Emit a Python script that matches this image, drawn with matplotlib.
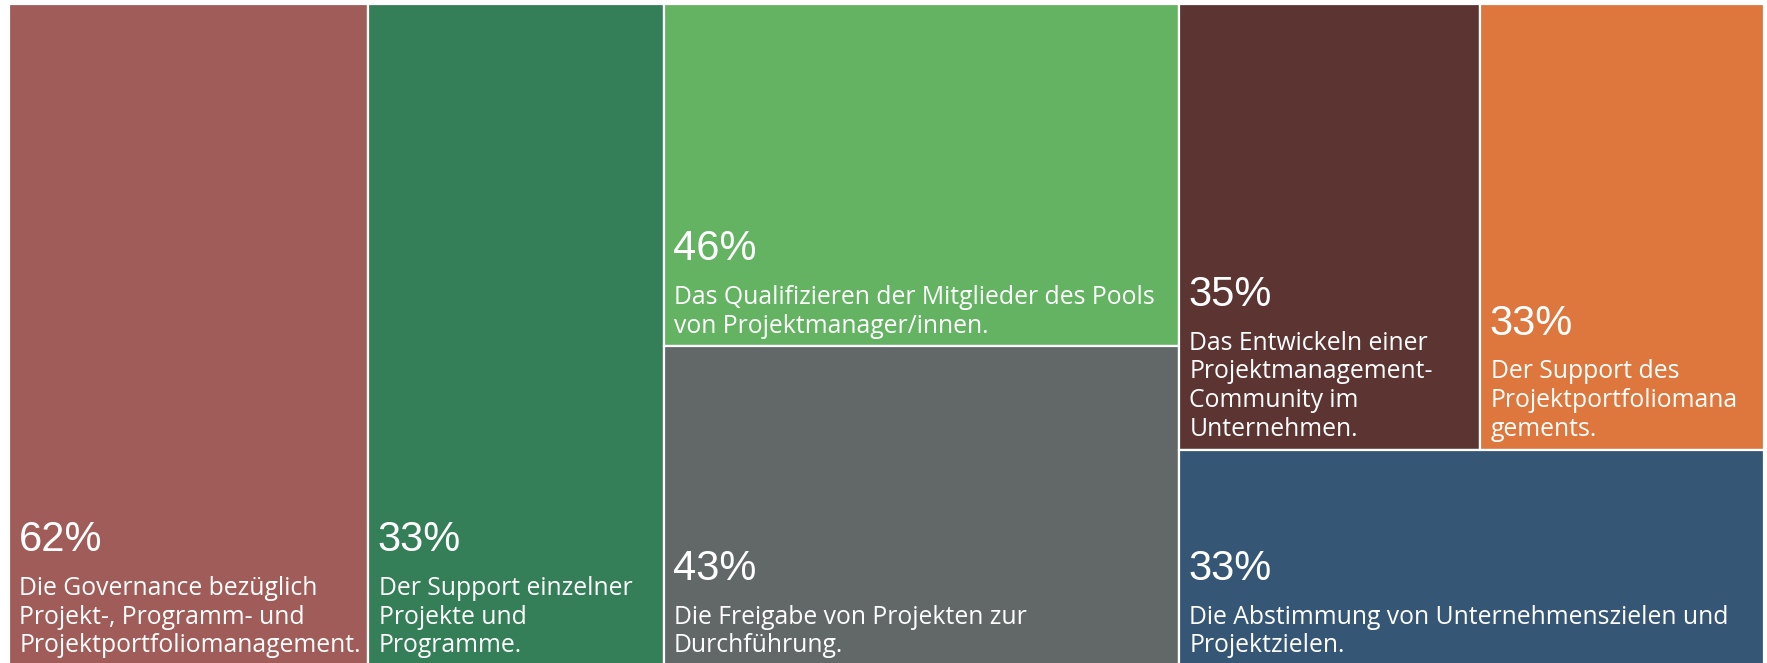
import matplotlib.pyplot as plt
from matplotlib.patches import Rectangle

# Daten (Fläche je Kachel, angezeigte Prozentwerte, Texte, Farben)
groessen = [62, 51, 46, 43, 35, 33, 33]
prozente = ["62%", "33%", "46%", "43%", "35%", "33%", "33%"]
texte = [
    "Die Governance bezüglich\nProjekt-, Programm- und\nProjektportfoliomanagement.",
    "Der Support einzelner\nProjekte und\nProgramme.",
    "Das Qualifizieren der Mitglieder des Pools\nvon Projektmanager/innen.",
    "Die Freigabe von Projekten zur\nDurchführung.",
    "Das Entwickeln einer\nProjektmanagement-\nCommunity im\nUnternehmen.",
    "Der Support des\nProjektportfoliomana\ngements.",
    "Die Abstimmung von Unternehmenszielen und\nProjektzielen.",
]
farben = ["#A05C59", "#347E58", "#63B362", "#626868", "#5C3533", "#DD773D", "#365675"]


def worst(reihe, laenge, ratio):
    s = sum(reihe)
    f = laenge * laenge * ratio
    return max(f * max(reihe) / s ** 2, s ** 2 / (f * min(reihe)))


# Squarified Treemap (Werte absteigend sortiert)
def squarify(werte, x, y, w, h, ratio=0.85):
    gesamt = sum(werte)
    flaechen = [v * w * h / gesamt for v in werte]
    rects = []
    i = 0
    while i < len(flaechen):
        kurz = min(w, h)
        reihe = [flaechen[i]]
        best = worst(reihe, kurz, ratio)
        j = i + 1
        while j < len(flaechen):
            neu = reihe + [flaechen[j]]
            score = worst(neu, kurz, ratio)
            if score > best:
                break
            reihe, best = neu, score
            j += 1
        dicke = sum(reihe) / kurz
        if w >= h:
            yy = y
            for a in reihe:
                rects.append((x, yy, dicke, a / dicke))
                yy += a / dicke
            x += dicke
            w -= dicke
        else:
            xx = x
            for a in reihe:
                rects.append((xx, y, a / dicke, dicke))
                xx += a / dicke
            y += dicke
            h -= dicke
        i = j
    return rects


fig = plt.figure(figsize=(17.67, 6.63), dpi=100)
# Treemap ragt unten minimal über den Bildrand hinaus
ax = fig.add_axes([9 / 1767, -3 / 663, 1755 / 1767, 662 / 663])
W, H = 1755, 662
ax.set_xlim(0, W)
ax.set_ylim(H, 0)
ax.axis("off")

rechtecke = squarify(groessen, 0, 0, W, H)

for (x, y, w, h), farbe, pct, txt in zip(rechtecke, farben, prozente, texte):
    ax.add_patch(Rectangle((x, y), w, h, facecolor=farbe, edgecolor="white", linewidth=1.6))
    label = ax.annotate(txt, xy=(x, y + h), xytext=(7.5, 5.5), textcoords="offset points",
                        ha="left", va="bottom", color="white", fontsize=17.8,
                        family="Open Sans", linespacing=1.2)
    ax.annotate(pct, xy=(0, 1), xycoords=label, xytext=(-0.5, 11), textcoords="offset points",
                ha="left", va="bottom", color="white", fontsize=30,
                family="Liberation Sans")

fig.savefig("out.png", dpi=100)
